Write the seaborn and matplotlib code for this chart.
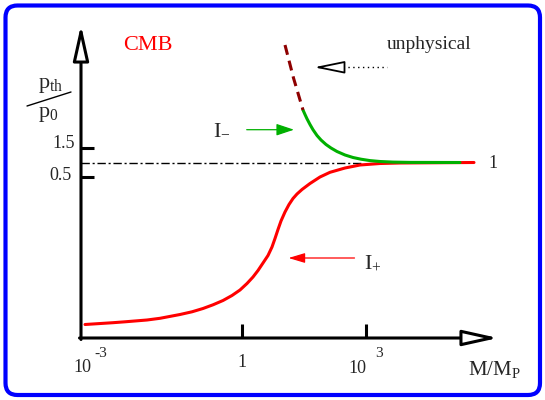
import matplotlib
matplotlib.use("Agg")
import matplotlib.pyplot as plt
from matplotlib.patches import FancyBboxPatch
import seaborn as sns
import pandas as pd

# Schematic sketch: x runs along the M/M_P axis, y along p_th/p_0.
# Origin sits at the corner of the two axes (1 unit ~ 1 pixel of the sketch).
iplus_x = [4, 32, 44, 66, 79, 99, 111, 122, 132, 142, 151, 159, 166, 172, 177, 182, 187,
           191, 194, 197, 200, 204, 208, 212, 216, 221, 229, 239, 249, 264, 279, 299, 319, 393]
iplus_y = [13.5, 15.3, 16.2, 18, 19.7, 23.5, 26.2, 29.5, 33.2, 37.5, 42.5, 48, 54.5, 61,
           67.5, 75, 82.5, 91, 99.5, 108.5, 117, 126, 133.5, 139.5, 144, 148.5, 154.5, 161,
           165.7, 170, 173, 174.5, 175, 175.5]

iminus_x = [222, 224, 226, 229, 232, 236, 240, 245, 250, 256, 264, 272, 280, 289, 299, 312, 329, 379]
iminus_y = [228, 223.5, 219.2, 213.5, 208.3, 202.5, 198, 193.5, 190, 186.5, 183, 180.5,
            178.8, 177.4, 176.5, 175.9, 175.6, 175.5]

unphys_x = [204, 212.5, 222]
unphys_y = [293, 260, 228]

level_x = [0, 280]
level_y = [175.5, 175.5]

ytick_pos = [161.3, 189.7]
ytick_labels = ["0.5", "1.5"]
xtick_pos = [160.7, 284.7]
xtick_labels = ["1", ""]

iplus = pd.DataFrame({"x": iplus_x, "y": iplus_y})
iminus = pd.DataFrame({"x": iminus_x, "y": iminus_y})
unphys = pd.DataFrame({"x": unphys_x, "y": unphys_y})

sns.set_style("white")
plt.rcParams["font.family"] = ["Liberation Serif", "DejaVu Serif"]
plt.rcParams["mathtext.default"] = "regular"

fig = plt.figure(figsize=(5.45, 4), dpi=100)
ax = fig.add_axes([0, 0, 1, 1])
ax.set_xlim(-81, 464)
ax.set_ylim(-62, 338)
ax.axis("off")

red = "#ff0000"
green = "#00b000"
maroon = "#8e0000"

# blue frame
ax.add_patch(FancyBboxPatch((-75.5, -57), 534.5, 389.5,
                            boxstyle="round,pad=0,rounding_size=12",
                            ec="#0000ff", fc="none", lw=3, clip_on=False))

# dash-dot level p_th/p_0 = 1
ax.plot(level_x, level_y, color="black", lw=1, linestyle=(0, (6, 2, 1.5, 2)))

# curves
curve_kw = dict(lw=2.2, sort=False, estimator=None, solid_joinstyle="round", solid_capstyle="round")
sns.lineplot(data=iplus, x="x", y="y", ax=ax, color=red, **curve_kw)
sns.lineplot(data=iminus, x="x", y="y", ax=ax, color=green, **curve_kw)
sns.lineplot(data=unphys, x="x", y="y", ax=ax, color=maroon, lw=2.2, sort=False,
             estimator=None, linestyle=(0, (3.3, 2)))

# axes with hollow arrow heads
axis_arrow = dict(arrowstyle="-|>,head_length=2.16,head_width=0.48", mutation_scale=10,
                  fc="white", ec="black", lw=2.2, shrinkA=0, shrinkB=0)
ax.annotate("", xy=(0, 313), xytext=(0, -1.5), arrowprops=axis_arrow)
ax.annotate("", xy=(417, 0), xytext=(-1.5, 0), arrowprops=axis_arrow)

# ticks
ax.hlines(ytick_pos, 0, 13, color="black", lw=2.2)
ax.vlines(xtick_pos, 0, 14, color="black", lw=2.2)

# tick labels
ax.text(-9, 158, ytick_labels[0], fontsize=13, ha="right", va="baseline")
ax.text(-6, 190, ytick_labels[1], fontsize=13, ha="right", va="baseline")
ax.text(-8, -34, "10", fontsize=13, ha="left", va="baseline")
ax.text(13, -19, "-3", fontsize=11, ha="left", va="baseline")
ax.text(xtick_pos[0], -29, xtick_labels[0], fontsize=13, ha="center", va="baseline")
ax.text(267, -35, "10", fontsize=13, ha="left", va="baseline")
ax.text(294, -19, "3", fontsize=11, ha="left", va="baseline")
ax.text(387, -37, "$M/M_P$", fontsize=15, ha="left", va="baseline")

# y label p_th / p_0
ax.text(-43, 250, "$p_{th}$", fontsize=16, ha="left", va="baseline")
ax.plot([-54, -10], [232, 246], color="black", lw=1)
ax.text(-43, 221, "$p_0$", fontsize=16, ha="left", va="baseline")

# annotations
ax.text(67, 292, "CMB", color=red, fontsize=16, ha="center", va="center")
ax.text(348, 289, "unphysical", fontsize=14, ha="center", va="baseline")
ax.text(412, 175, "1", fontsize=13, ha="center", va="center")
ax.text(132, 204, "$I_{-}$", fontsize=16, ha="left", va="baseline")
ax.text(283, 70, "$I_{+}$", fontsize=16, ha="left", va="baseline")

ax.annotate("", xy=(213, 208.3), xytext=(165.7, 208.3),
            arrowprops=dict(arrowstyle="-|>,head_length=1.08,head_width=0.36", mutation_scale=10,
                            color=green, lw=0.9, shrinkA=0, shrinkB=0))
ax.annotate("", xy=(207.5, 80), xytext=(273.5, 80),
            arrowprops=dict(arrowstyle="-|>,head_length=1.0,head_width=0.3", mutation_scale=10,
                            color=red, lw=0.9, shrinkA=0, shrinkB=0))

# dotted arrow towards the unphysical branch
ax.plot([262, 305.7], [270.7, 270.7], color="black", lw=1, linestyle=(0, (1, 2.5)))
ax.annotate("", xy=(233, 270.7), xytext=(262, 270.7),
            arrowprops=dict(arrowstyle="-|>,head_length=1.87,head_width=0.38", mutation_scale=10,
                            fc="white", ec="black", lw=1.3, shrinkA=0, shrinkB=0))

fig.savefig("out.png", dpi=100)
